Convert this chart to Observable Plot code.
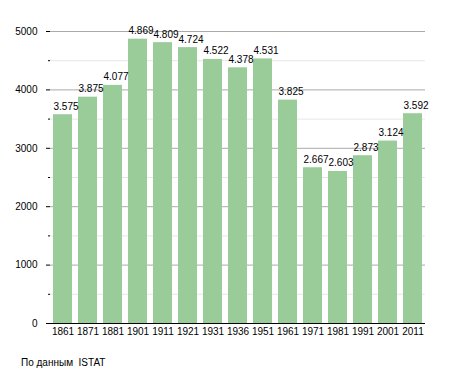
<!DOCTYPE html>
<html>
<head>
<meta charset="utf-8">
<script src="https://cdn.jsdelivr.net/npm/d3@7"></script>
<script src="https://cdn.jsdelivr.net/npm/@observablehq/plot@0.6"></script>
<style>
  body { margin: 0; background: #fff; font-family: "Liberation Sans", Arial, sans-serif; }
  #chart svg { display: block; }
  .caption { font-size: 10px; color: #000; margin: 12px 0 0 21px; }
</style>
</head>
<body>
<div id="chart"></div>
<div class="caption">По данным&nbsp; ISTAT</div>
<script>
const years = ["1861","1871","1881","1901","1911","1921","1931","1936","1951","1961","1971","1981","1991","2001","2011"];
const population = [3575, 3875, 4077, 4869, 4809, 4724, 4522, 4378, 4531, 3825, 2667, 2603, 2873, 3124, 3592];
const majorTicks = [0, 1000, 2000, 3000, 4000, 5000];
const minorTicks = [500, 1500, 2500, 3500, 4500];

const data = years.map((y, i) => ({year: y, value: population[i]}));
const fmt = d3.formatLocale({decimal: ",", thousands: ".", grouping: [3], currency: ["", "€"]}).format(",");

const chart = Plot.plot({
  width: 455,
  height: 345,
  marginTop: 31,
  marginBottom: 22,
  marginLeft: 50,
  marginRight: 30,
  style: {fontFamily: '"Liberation Sans", Arial, sans-serif', fontSize: "10px", color: "#000", background: "#fff"},
  x: {domain: years, paddingInner: 0.25, paddingOuter: 0.02, label: null},
  y: {domain: [0, 5000], label: null},
  marks: [
    Plot.ruleY(minorTicks, {stroke: "#e6e6e6", strokeOpacity: 1}),
    Plot.ruleY(majorTicks.filter(d => d > 0), {stroke: "#aaaaaa", strokeOpacity: 1}),
    Plot.barY(data, {x: "year", y: "value", fill: "#99cc99"}),
    Plot.text(data, {x: "year", y: "value", text: d => fmt(d.value), lineAnchor: "bottom", dy: -5, dx: 3, fontSize: 10, fill: "#000"}),
    Plot.axisY({ticks: majorTicks, tickSize: 4, tickPadding: 9, tickFormat: d => String(d), fontSize: 10, label: null}),
    Plot.axisY({ticks: minorTicks, tickSize: 2, tickFormat: null, text: null, label: null}),
    Plot.ruleX([0], {frameAnchor: "left", stroke: "#000"}),
    Plot.ruleY([0], {stroke: "#000"}),
    Plot.axisX({tickSize: 0, tickPadding: 4, fontSize: 10, label: null})
  ]
});
document.getElementById("chart").appendChild(chart);
</script>
</body>
</html>
